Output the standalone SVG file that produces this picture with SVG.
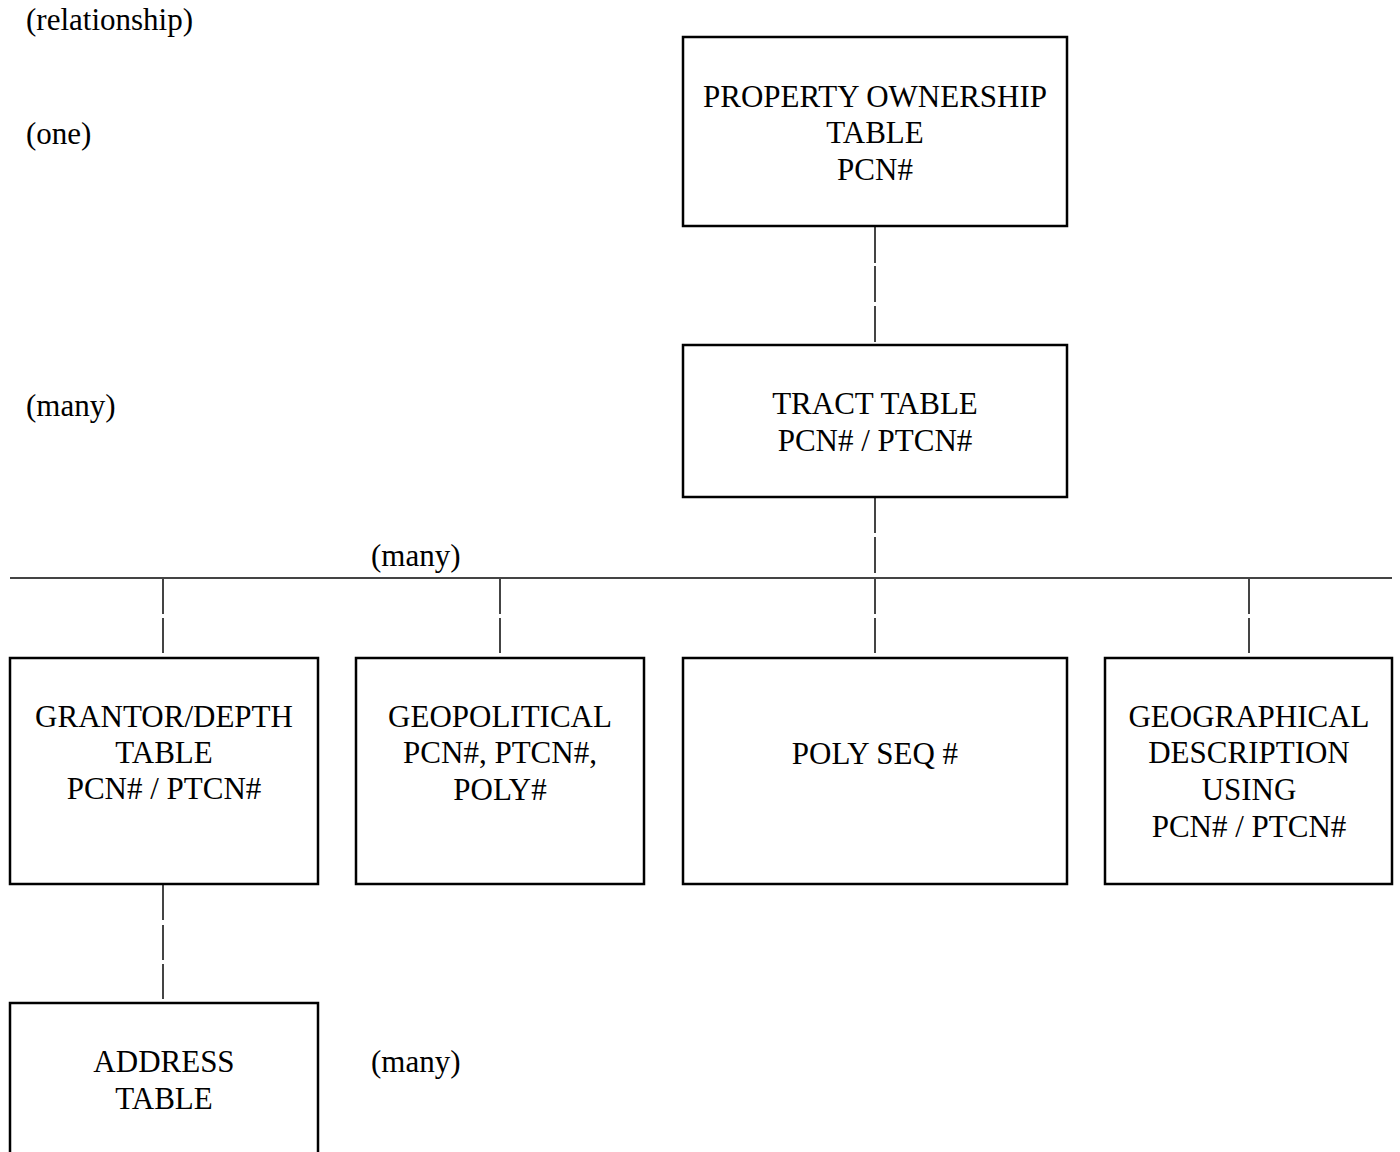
<svg xmlns="http://www.w3.org/2000/svg" width="1400" height="1152" viewBox="0 0 1400 1152">
<style>
  .box { fill: #ffffff; stroke: #000000; stroke-width: 2.5; }
  .t { font-family: "Liberation Serif", "Times New Roman", serif; font-size: 31px; fill: #000000; }
  .c { text-anchor: middle; }
  .conn line { stroke: #444444; stroke-width: 2; }
  .bus { stroke: #000000; stroke-width: 2.5; }
</style>
<rect width="1400" height="1152" fill="#ffffff"/>

<g id="labels">
  <text class="t" x="26" y="30">(relationship)</text>
  <text class="t" x="26" y="144">(one)</text>
  <text class="t" x="26" y="416">(many)</text>
  <text class="t" x="371" y="566">(many)</text>
  <text class="t" x="371" y="1072">(many)</text>
</g>

<g id="connectors" class="conn">
  <line x1="875" y1="227" x2="875" y2="263"/>
  <line x1="875" y1="266" x2="875" y2="302"/>
  <line x1="875" y1="306" x2="875" y2="342"/>
  <line x1="875" y1="497" x2="875" y2="533"/>
  <line x1="875" y1="537" x2="875" y2="573"/>
  <line class="bus" x1="10" y1="578" x2="1392" y2="578"/>
  <line x1="163" y1="579" x2="163" y2="614"/>
  <line x1="163" y1="618" x2="163" y2="653"/>
  <line x1="500" y1="579" x2="500" y2="614"/>
  <line x1="500" y1="618" x2="500" y2="653"/>
  <line x1="875" y1="579" x2="875" y2="614"/>
  <line x1="875" y1="618" x2="875" y2="653"/>
  <line x1="1249" y1="579" x2="1249" y2="614"/>
  <line x1="1249" y1="618" x2="1249" y2="653"/>
  <line x1="163" y1="885" x2="163" y2="920"/>
  <line x1="163" y1="925" x2="163" y2="960"/>
  <line x1="163" y1="964" x2="163" y2="999"/>
</g>

<g id="property-ownership">
  <rect class="box" x="683" y="37" width="384" height="189"/>
  <text class="t c" x="875" y="107">PROPERTY OWNERSHIP</text>
  <text class="t c" x="875" y="143">TABLE</text>
  <text class="t c" x="875" y="180">PCN#</text>
</g>

<g id="tract">
  <rect class="box" x="683" y="345" width="384" height="152"/>
  <text class="t c" x="875" y="414">TRACT TABLE</text>
  <text class="t c" x="875" y="451">PCN# / PTCN#</text>
</g>

<g id="grantor-depth">
  <rect class="box" x="10" y="658" width="308" height="226"/>
  <text class="t c" x="164" y="727">GRANTOR/DEPTH</text>
  <text class="t c" x="164" y="763">TABLE</text>
  <text class="t c" x="164" y="799">PCN# / PTCN#</text>
</g>

<g id="geopolitical">
  <rect class="box" x="356" y="658" width="288" height="226"/>
  <text class="t c" x="500" y="727">GEOPOLITICAL</text>
  <text class="t c" x="500" y="763">PCN#, PTCN#,</text>
  <text class="t c" x="500" y="800">POLY#</text>
</g>

<g id="poly-seq">
  <rect class="box" x="683" y="658" width="384" height="226"/>
  <text class="t c" x="875" y="764">POLY SEQ #</text>
</g>

<g id="geographical">
  <rect class="box" x="1105" y="658" width="287" height="226"/>
  <text class="t c" x="1249" y="727">GEOGRAPHICAL</text>
  <text class="t c" x="1249" y="763">DESCRIPTION</text>
  <text class="t c" x="1249" y="800">USING</text>
  <text class="t c" x="1249" y="837">PCN# / PTCN#</text>
</g>

<g id="address">
  <rect class="box" x="10" y="1003" width="308" height="170"/>
  <text class="t c" x="164" y="1072">ADDRESS</text>
  <text class="t c" x="164" y="1109">TABLE</text>
</g>
</svg>
